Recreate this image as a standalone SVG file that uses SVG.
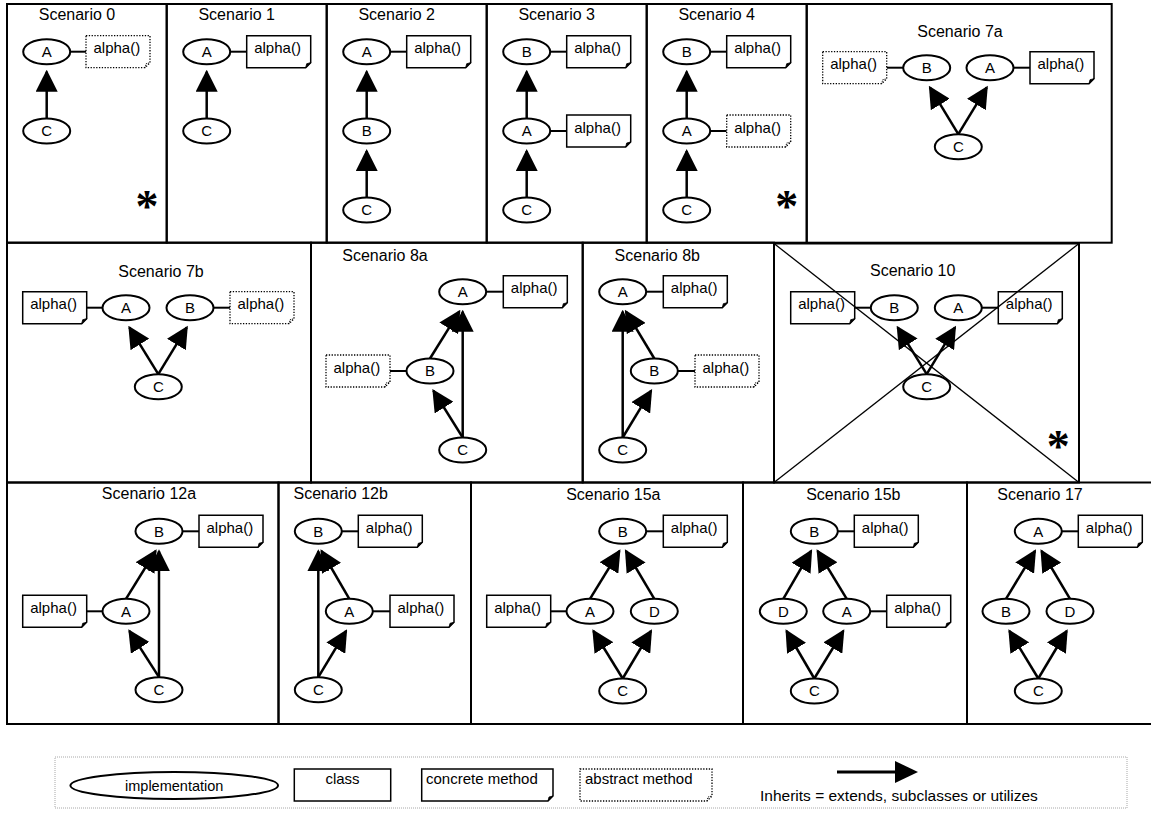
<svg xmlns="http://www.w3.org/2000/svg" xmlns:xlink="http://www.w3.org/1999/xlink" width="1151" height="819" viewBox="0 0 1151 819">
<style>
text{font-family:"Liberation Sans",Arial,Helvetica,sans-serif;fill:#000}
.panel{fill:none;stroke:#000;stroke-width:2}
.node ellipse{fill:#fff;stroke:#000;stroke-width:2}
.lbl{font-size:15px;text-anchor:middle}
.title{font-size:16px;text-anchor:middle}
.nt{font-size:15px}
.edge{fill:none;stroke:#000;stroke-width:2.5;marker-end:url(#arr)}
.link{stroke:#000;stroke-width:2}
.star{font-family:"Liberation Serif","Times New Roman",serif;font-size:46px;font-weight:bold;text-anchor:middle}
.diag{stroke:#000;stroke-width:1.3}
</style>
<defs>
<marker id="arr" viewBox="0 0 22 22" refX="20" refY="11" markerWidth="22" markerHeight="22" markerUnits="userSpaceOnUse" orient="auto">
<path d="M0,0 L22,11 L0,22 Z" fill="#000"/>
</marker>
<g id="cnote"><path d="M0,0 H64 V27 L59,32 H0 Z" fill="#fff" stroke="#000" stroke-width="1.5"/><path d="M59,32 L60,28 L64,27 Z" fill="#000" stroke="#000" stroke-width="0.8"/></g>
<g id="anote"><path d="M0,0 H64 V27 L59,32 H0 Z" fill="#fff" stroke="#000" stroke-width="1.3" stroke-dasharray="1.3 1.5"/><path d="M59,32 L60,28 L64,27" fill="none" stroke="#000" stroke-width="1" stroke-dasharray="1 1"/></g>
</defs>
<rect width="1151" height="819" fill="#fff"/>

<g id="panels">
<rect class="panel" x="7" y="4" width="159.7" height="238.7"/>
<rect class="panel" x="166.7" y="4" width="160" height="238.7"/>
<rect class="panel" x="326.7" y="4" width="160" height="238.7"/>
<rect class="panel" x="486.7" y="4" width="160" height="238.7"/>
<rect class="panel" x="646.7" y="4" width="160" height="238.7"/>
<rect class="panel" x="806.7" y="4" width="305" height="238.7"/>
<rect class="panel" x="7" y="242.7" width="304" height="239.8"/>
<rect class="panel" x="311" y="242.7" width="271.7" height="239.8"/>
<rect class="panel" x="582.7" y="242.7" width="191.3" height="239.8"/>
<rect class="panel" x="774" y="243.5" width="305" height="239"/>
<rect class="panel" x="7" y="482.5" width="271.5" height="241.5"/>
<rect class="panel" x="278.5" y="482.5" width="192.5" height="241.5"/>
<rect class="panel" x="471" y="482.5" width="272" height="241.5"/>
<rect class="panel" x="743" y="482.5" width="224" height="241.5"/>
<rect class="panel" x="967" y="482.5" width="190" height="241.5"/>
</g>

<g id="titles">
<text class="title" x="77" y="20">Scenario 0</text>
<text class="title" x="236.7" y="20">Scenario 1</text>
<text class="title" x="396.7" y="20">Scenario 2</text>
<text class="title" x="556.7" y="20">Scenario 3</text>
<text class="title" x="716.7" y="20">Scenario 4</text>
<text class="title" x="960" y="37">Scenario 7a</text>
<text class="title" x="161" y="277">Scenario 7b</text>
<text class="title" x="385" y="260.5">Scenario 8a</text>
<text class="title" x="657.3" y="260.5">Scenario 8b</text>
<text class="title" x="912.7" y="275.5">Scenario 10</text>
<text class="title" x="149" y="498.7">Scenario 12a</text>
<text class="title" x="340.7" y="498.7">Scenario 12b</text>
<text class="title" x="613.3" y="499.5">Scenario 15a</text>
<text class="title" x="853.3" y="499.5">Scenario 15b</text>
<text class="title" x="1040" y="499.5">Scenario 17</text>
</g>

<g id="connectors">
<path class="edge" d="M46.7,119 L46.7,71.7"/>
<path class="edge" d="M206.7,119 L206.7,71.7"/>
<path class="edge" d="M366.7,119 L366.7,71.7"/>
<path class="edge" d="M366.7,198 L366.7,151"/>
<path class="edge" d="M526.7,119 L526.7,71.7"/>
<path class="edge" d="M526.7,198 L526.7,151"/>
<path class="edge" d="M686.7,119 L686.7,71.7"/>
<path class="edge" d="M686.7,198 L686.7,151"/>
<path class="edge" d="M958.3,134.2 L929.9,87.4"/>
<path class="edge" d="M958.3,134.2 L986.8,87.4"/>
<path class="edge" d="M158.3,374.2 L129.4,327.4"/>
<path class="edge" d="M158.3,374.2 L186.8,327.4"/>
<path class="edge" d="M462.7,437.5 L462.7,311.7"/>
<path class="edge" d="M430,358.5 L459.3,311.4"/>
<path class="edge" d="M462.7,437.5 L433.4,390.7"/>
<path class="edge" d="M622.7,437.5 L622.7,311.7"/>
<path class="edge" d="M654.3,358.5 L625.9,311.4"/>
<path class="edge" d="M622.7,437.5 L651.1,390.7"/>
<path class="edge" d="M926.7,374.2 L897.7,327.4"/>
<path class="edge" d="M926.7,374.2 L955,327.4"/>
<path class="edge" d="M159,677.2 L159,551.3"/>
<path class="edge" d="M126,598.8 L155.6,551"/>
<path class="edge" d="M159,677.2 L129.4,631"/>
<path class="edge" d="M318.3,677.2 L318.3,551.3"/>
<path class="edge" d="M349.3,598.8 L321.5,551"/>
<path class="edge" d="M318.3,677.2 L346.1,631"/>
<path class="edge" d="M590,598.8 L619.4,551"/>
<path class="edge" d="M654.3,598.8 L625.9,551"/>
<path class="edge" d="M622.7,678.5 L593.4,631"/>
<path class="edge" d="M622.7,678.5 L651,631"/>
<path class="edge" d="M783.3,598.8 L811.1,551"/>
<path class="edge" d="M846.7,598.8 L817.6,551"/>
<path class="edge" d="M814.3,678.5 L786.5,631"/>
<path class="edge" d="M814.3,678.5 L843.3,631"/>
<path class="edge" d="M1006,598.8 L1035,551"/>
<path class="edge" d="M1070,598.8 L1041.5,551"/>
<path class="edge" d="M1038.3,678.5 L1009.4,631"/>
<path class="edge" d="M1038.3,678.5 L1066.7,631"/>
<line class="link" x1="70" y1="51.7" x2="86" y2="51.7"/>
<line class="link" x1="230" y1="51.7" x2="246.7" y2="51.7"/>
<line class="link" x1="390" y1="51.7" x2="406.7" y2="51.7"/>
<line class="link" x1="550" y1="51.7" x2="566.7" y2="51.7"/>
<line class="link" x1="550" y1="131" x2="566.7" y2="131"/>
<line class="link" x1="710" y1="51.7" x2="726.7" y2="51.7"/>
<line class="link" x1="710" y1="131" x2="726.7" y2="131"/>
<line class="link" x1="886.7" y1="67.7" x2="903.5" y2="67.7"/>
<line class="link" x1="1013" y1="67.7" x2="1030" y2="67.7"/>
<line class="link" x1="86.7" y1="307.7" x2="102.5" y2="307.7"/>
<line class="link" x1="213" y1="307.7" x2="230" y2="307.7"/>
<line class="link" x1="486" y1="291.7" x2="503.3" y2="291.7"/>
<line class="link" x1="390" y1="371" x2="406.5" y2="371"/>
<line class="link" x1="646" y1="291.7" x2="663.3" y2="291.7"/>
<line class="link" x1="677.5" y1="371" x2="695" y2="371"/>
<line class="link" x1="854.7" y1="307.7" x2="871" y2="307.7"/>
<line class="link" x1="981.5" y1="307.7" x2="998.3" y2="307.7"/>
<line class="link" x1="182" y1="531.3" x2="199" y2="531.3"/>
<line class="link" x1="86.7" y1="611.3" x2="102.5" y2="611.3"/>
<line class="link" x1="341.5" y1="531.3" x2="358.3" y2="531.3"/>
<line class="link" x1="372.5" y1="611.3" x2="390" y2="611.3"/>
<line class="link" x1="646" y1="531.3" x2="663.3" y2="531.3"/>
<line class="link" x1="550.7" y1="611.3" x2="566.5" y2="611.3"/>
<line class="link" x1="837.5" y1="531.3" x2="854.3" y2="531.3"/>
<line class="link" x1="870" y1="611.3" x2="886.7" y2="611.3"/>
<line class="link" x1="1061.5" y1="531.3" x2="1078.3" y2="531.3"/>
</g>

<g id="s0">
<g id="s0-A" class="node"><ellipse cx="46.7" cy="51.7" rx="23.5" ry="12.5"/><text class="lbl" x="46.7" y="57">A</text></g>
<g id="s0-C" class="node"><ellipse cx="46.7" cy="131" rx="23.5" ry="12.5"/><text class="lbl" x="46.7" y="136.3">C</text></g>
<g id="s0-alpha"><use xlink:href="#anote" x="86" y="35.7"/><text class="nt" x="93.5" y="53.2">alpha()</text></g>
<text id="s0-star" class="star" x="147" y="222">*</text>
</g>
<g id="s1">
<g id="s1-A" class="node"><ellipse cx="206.7" cy="51.7" rx="23.5" ry="12.5"/><text class="lbl" x="206.7" y="57">A</text></g>
<g id="s1-C" class="node"><ellipse cx="206.7" cy="131" rx="23.5" ry="12.5"/><text class="lbl" x="206.7" y="136.3">C</text></g>
<g id="s1-alpha"><use xlink:href="#cnote" x="246.7" y="35.7"/><text class="nt" x="254.2" y="53.2">alpha()</text></g>
</g>
<g id="s2">
<g id="s2-A" class="node"><ellipse cx="366.7" cy="51.7" rx="23.5" ry="12.5"/><text class="lbl" x="366.7" y="57">A</text></g>
<g id="s2-B" class="node"><ellipse cx="366.7" cy="131" rx="23.5" ry="12.5"/><text class="lbl" x="366.7" y="136.3">B</text></g>
<g id="s2-C" class="node"><ellipse cx="366.7" cy="210" rx="23.5" ry="12.5"/><text class="lbl" x="366.7" y="215.3">C</text></g>
<g id="s2-alpha"><use xlink:href="#cnote" x="406.7" y="35.7"/><text class="nt" x="414.2" y="53.2">alpha()</text></g>
</g>
<g id="s3">
<g id="s3-B" class="node"><ellipse cx="526.7" cy="51.7" rx="23.5" ry="12.5"/><text class="lbl" x="526.7" y="57">B</text></g>
<g id="s3-A" class="node"><ellipse cx="526.7" cy="131" rx="23.5" ry="12.5"/><text class="lbl" x="526.7" y="136.3">A</text></g>
<g id="s3-C" class="node"><ellipse cx="526.7" cy="210" rx="23.5" ry="12.5"/><text class="lbl" x="526.7" y="215.3">C</text></g>
<g id="s3-alphaB"><use xlink:href="#cnote" x="566.7" y="35.7"/><text class="nt" x="574.2" y="53.2">alpha()</text></g>
<g id="s3-alphaA"><use xlink:href="#cnote" x="566.7" y="115"/><text class="nt" x="574.2" y="132.5">alpha()</text></g>
</g>
<g id="s4">
<g id="s4-B" class="node"><ellipse cx="686.7" cy="51.7" rx="23.5" ry="12.5"/><text class="lbl" x="686.7" y="57">B</text></g>
<g id="s4-A" class="node"><ellipse cx="686.7" cy="131" rx="23.5" ry="12.5"/><text class="lbl" x="686.7" y="136.3">A</text></g>
<g id="s4-C" class="node"><ellipse cx="686.7" cy="210" rx="23.5" ry="12.5"/><text class="lbl" x="686.7" y="215.3">C</text></g>
<g id="s4-alphaB"><use xlink:href="#cnote" x="726.7" y="35.7"/><text class="nt" x="734.2" y="53.2">alpha()</text></g>
<g id="s4-alphaA"><use xlink:href="#anote" x="726.7" y="115"/><text class="nt" x="734.2" y="132.5">alpha()</text></g>
<text id="s4-star" class="star" x="786.7" y="221.5">*</text>
</g>
<g id="s7a">
<g id="s7a-alphaB"><use xlink:href="#anote" x="822.7" y="51.7"/><text class="nt" x="830.2" y="69.2">alpha()</text></g>
<g id="s7a-B" class="node"><ellipse cx="926.7" cy="67.7" rx="23.5" ry="12.5"/><text class="lbl" x="926.7" y="73">B</text></g>
<g id="s7a-A" class="node"><ellipse cx="990" cy="67.7" rx="23.5" ry="12.5"/><text class="lbl" x="990" y="73">A</text></g>
<g id="s7a-alphaA"><use xlink:href="#cnote" x="1030" y="51.7"/><text class="nt" x="1037.5" y="69.2">alpha()</text></g>
<g id="s7a-C" class="node"><ellipse cx="958.3" cy="146.7" rx="23.5" ry="12.5"/><text class="lbl" x="958.3" y="152">C</text></g>
</g>
<g id="s7b">
<g id="s7b-alphaA"><use xlink:href="#cnote" x="22.7" y="291.7"/><text class="nt" x="30.2" y="309.2">alpha()</text></g>
<g id="s7b-A" class="node"><ellipse cx="126" cy="307.7" rx="23.5" ry="12.5"/><text class="lbl" x="126" y="313">A</text></g>
<g id="s7b-B" class="node"><ellipse cx="190" cy="307.7" rx="23.5" ry="12.5"/><text class="lbl" x="190" y="313">B</text></g>
<g id="s7b-alphaB"><use xlink:href="#anote" x="230" y="291.7"/><text class="nt" x="237.5" y="309.2">alpha()</text></g>
<g id="s7b-C" class="node"><ellipse cx="158.3" cy="386.7" rx="23.5" ry="12.5"/><text class="lbl" x="158.3" y="392">C</text></g>
</g>
<g id="s8a">
<g id="s8a-A" class="node"><ellipse cx="462.7" cy="291.7" rx="23.5" ry="12.5"/><text class="lbl" x="462.7" y="297">A</text></g>
<g id="s8a-alphaA"><use xlink:href="#cnote" x="503.3" y="275.7"/><text class="nt" x="510.8" y="293.2">alpha()</text></g>
<g id="s8a-B" class="node"><ellipse cx="430" cy="371" rx="23.5" ry="12.5"/><text class="lbl" x="430" y="376.3">B</text></g>
<g id="s8a-alphaB"><use xlink:href="#anote" x="326" y="355"/><text class="nt" x="333.5" y="372.5">alpha()</text></g>
<g id="s8a-C" class="node"><ellipse cx="462.7" cy="450" rx="23.5" ry="12.5"/><text class="lbl" x="462.7" y="455.3">C</text></g>
</g>
<g id="s8b">
<g id="s8b-A" class="node"><ellipse cx="622.7" cy="291.7" rx="23.5" ry="12.5"/><text class="lbl" x="622.7" y="297">A</text></g>
<g id="s8b-alphaA"><use xlink:href="#cnote" x="663.3" y="275.7"/><text class="nt" x="670.8" y="293.2">alpha()</text></g>
<g id="s8b-B" class="node"><ellipse cx="654.3" cy="371" rx="23.5" ry="12.5"/><text class="lbl" x="654.3" y="376.3">B</text></g>
<g id="s8b-alphaB"><use xlink:href="#anote" x="695" y="355"/><text class="nt" x="702.5" y="372.5">alpha()</text></g>
<g id="s8b-C" class="node"><ellipse cx="622.7" cy="450" rx="23.5" ry="12.5"/><text class="lbl" x="622.7" y="455.3">C</text></g>
</g>
<g id="s10">
<g id="s10-alphaB"><use xlink:href="#cnote" x="790.7" y="291.7"/><text class="nt" x="798.2" y="309.2">alpha()</text></g>
<g id="s10-B" class="node"><ellipse cx="894.3" cy="307.7" rx="23.5" ry="12.5"/><text class="lbl" x="894.3" y="313">B</text></g>
<g id="s10-A" class="node"><ellipse cx="958.3" cy="307.7" rx="23.5" ry="12.5"/><text class="lbl" x="958.3" y="313">A</text></g>
<g id="s10-alphaA"><use xlink:href="#cnote" x="998.3" y="291.7"/><text class="nt" x="1005.8" y="309.2">alpha()</text></g>
<g id="s10-C" class="node"><ellipse cx="926.7" cy="386.7" rx="23.5" ry="12.5"/><text class="lbl" x="926.7" y="392">C</text></g>
<line class="diag" x1="774" y1="243.5" x2="1079" y2="482.5"/>
<line class="diag" x1="1079" y1="243.5" x2="774" y2="482.5"/>
<text id="s10-star" class="star" x="1058.3" y="461.5">*</text>
</g>
<g id="s12a">
<g id="s12a-B" class="node"><ellipse cx="159" cy="531.3" rx="23.5" ry="12.5"/><text class="lbl" x="159" y="536.6">B</text></g>
<g id="s12a-alphaB"><use xlink:href="#cnote" x="199" y="515.3"/><text class="nt" x="206.5" y="532.8">alpha()</text></g>
<g id="s12a-A" class="node"><ellipse cx="126" cy="611.3" rx="23.5" ry="12.5"/><text class="lbl" x="126" y="616.6">A</text></g>
<g id="s12a-alphaA"><use xlink:href="#cnote" x="22.7" y="595.3"/><text class="nt" x="30.2" y="612.8">alpha()</text></g>
<g id="s12a-C" class="node"><ellipse cx="159" cy="689.7" rx="23.5" ry="12.5"/><text class="lbl" x="159" y="695">C</text></g>
</g>
<g id="s12b">
<g id="s12b-B" class="node"><ellipse cx="318.3" cy="531.3" rx="23.5" ry="12.5"/><text class="lbl" x="318.3" y="536.6">B</text></g>
<g id="s12b-alphaB"><use xlink:href="#cnote" x="358.3" y="515.3"/><text class="nt" x="365.8" y="532.8">alpha()</text></g>
<g id="s12b-A" class="node"><ellipse cx="349.3" cy="611.3" rx="23.5" ry="12.5"/><text class="lbl" x="349.3" y="616.6">A</text></g>
<g id="s12b-alphaA"><use xlink:href="#cnote" x="390" y="595.3"/><text class="nt" x="397.5" y="612.8">alpha()</text></g>
<g id="s12b-C" class="node"><ellipse cx="318.3" cy="689.7" rx="23.5" ry="12.5"/><text class="lbl" x="318.3" y="695">C</text></g>
</g>
<g id="s15a">
<g id="s15a-B" class="node"><ellipse cx="622.7" cy="531.3" rx="23.5" ry="12.5"/><text class="lbl" x="622.7" y="536.6">B</text></g>
<g id="s15a-alphaB"><use xlink:href="#cnote" x="663.3" y="515.3"/><text class="nt" x="670.8" y="532.8">alpha()</text></g>
<g id="s15a-A" class="node"><ellipse cx="590" cy="611.3" rx="23.5" ry="12.5"/><text class="lbl" x="590" y="616.6">A</text></g>
<g id="s15a-alphaA"><use xlink:href="#cnote" x="486.7" y="595.3"/><text class="nt" x="494.2" y="612.8">alpha()</text></g>
<g id="s15a-D" class="node"><ellipse cx="654.3" cy="611.3" rx="23.5" ry="12.5"/><text class="lbl" x="654.3" y="616.6">D</text></g>
<g id="s15a-C" class="node"><ellipse cx="622.7" cy="691" rx="23.5" ry="12.5"/><text class="lbl" x="622.7" y="696.3">C</text></g>
</g>
<g id="s15b">
<g id="s15b-B" class="node"><ellipse cx="814.3" cy="531.3" rx="23.5" ry="12.5"/><text class="lbl" x="814.3" y="536.6">B</text></g>
<g id="s15b-alphaB"><use xlink:href="#cnote" x="854.3" y="515.3"/><text class="nt" x="861.8" y="532.8">alpha()</text></g>
<g id="s15b-D" class="node"><ellipse cx="783.3" cy="611.3" rx="23.5" ry="12.5"/><text class="lbl" x="783.3" y="616.6">D</text></g>
<g id="s15b-A" class="node"><ellipse cx="846.7" cy="611.3" rx="23.5" ry="12.5"/><text class="lbl" x="846.7" y="616.6">A</text></g>
<g id="s15b-alphaA"><use xlink:href="#cnote" x="886.7" y="595.3"/><text class="nt" x="894.2" y="612.8">alpha()</text></g>
<g id="s15b-C" class="node"><ellipse cx="814.3" cy="691" rx="23.5" ry="12.5"/><text class="lbl" x="814.3" y="696.3">C</text></g>
</g>
<g id="s17">
<g id="s17-A" class="node"><ellipse cx="1038.3" cy="531.3" rx="23.5" ry="12.5"/><text class="lbl" x="1038.3" y="536.6">A</text></g>
<g id="s17-alphaA"><use xlink:href="#cnote" x="1078.3" y="515.3"/><text class="nt" x="1085.8" y="532.8">alpha()</text></g>
<g id="s17-B" class="node"><ellipse cx="1006" cy="611.3" rx="23.5" ry="12.5"/><text class="lbl" x="1006" y="616.6">B</text></g>
<g id="s17-D" class="node"><ellipse cx="1070" cy="611.3" rx="23.5" ry="12.5"/><text class="lbl" x="1070" y="616.6">D</text></g>
<g id="s17-C" class="node"><ellipse cx="1038.3" cy="691" rx="23.5" ry="12.5"/><text class="lbl" x="1038.3" y="696.3">C</text></g>
</g>

<g id="legend">
<rect x="55" y="757" width="1072" height="51" fill="none" stroke="#a8a8a8" stroke-width="1" stroke-dasharray="1 1"/>
<g id="leg-impl" class="node"><ellipse cx="174.2" cy="785.5" rx="103.8" ry="13.5"/><text class="lbl" style="font-size:14.5px" x="174.2" y="790.5">implementation</text></g>
<g id="leg-class"><rect x="294.3" y="769" width="96.4" height="32" fill="#fff" stroke="#000" stroke-width="1.5"/><text class="lbl" x="342.5" y="784">class</text></g>
<g id="leg-concrete"><path d="M421.7,769 H553 V796 L548,801 H421.7 Z" fill="#fff" stroke="#000" stroke-width="1.5"/><path d="M548,801 L549,797 L553,796 Z" fill="#000" stroke="#000" stroke-width="0.8"/><text class="nt" x="426" y="784">concrete method</text></g>
<g id="leg-abstract"><path d="M580,769 H712 V796 L707,801 H580 Z" fill="#fff" stroke="#000" stroke-width="1.3" stroke-dasharray="1.3 1.5"/><path d="M707,801 L708,797 L712,796" fill="none" stroke="#000" stroke-width="1" stroke-dasharray="1 1"/><text class="nt" x="585" y="784">abstract method</text></g>
<g id="leg-inherits"><line x1="837" y1="772" x2="897" y2="772" stroke="#000" stroke-width="3"/><path d="M895,761 L918,772 L895,783 Z" fill="#000"/><text style="font-size:15.5px" x="760" y="801">Inherits = extends, subclasses or utilizes</text></g>
</g>
</svg>
